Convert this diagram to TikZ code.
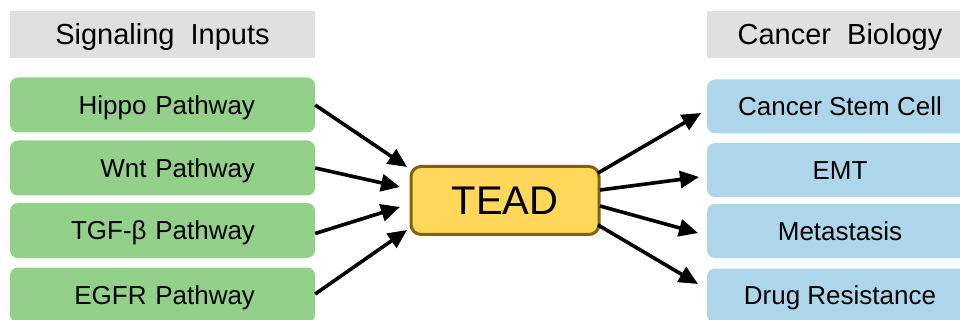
\documentclass[tikz,border=0pt]{standalone}
\usepackage{fontspec}
\setmainfont{Liberation Sans}
\usetikzlibrary{arrows.meta}
\definecolor{hdrgray}{RGB}{224,224,224}
\definecolor{ingreen}{RGB}{147,208,137}
\definecolor{outblue}{RGB}{174,214,234}
\definecolor{teadfill}{RGB}{255,215,90}
\definecolor{teaddraw}{RGB}{130,98,10}
\tikzset{
  hdr/.style={fill=hdrgray, minimum height=47pt, inner sep=0pt, text height=20.5pt, text depth=0pt, font=\fontsize{29}{32}\selectfont},
  inbox/.style={fill=ingreen, rounded corners=8pt, minimum width=305pt, minimum height=55pt, inner sep=0pt, text width=185pt, align=right, text height=18.6pt, text depth=0pt, font=\fontsize{26}{29}\selectfont},
  outbox/.style={fill=outblue, rounded corners=8pt, minimum width=266pt, minimum height=54pt, inner sep=0pt, align=center, text height=18.6pt, text depth=0pt, font=\fontsize{26}{29}\selectfont},
  hub/.style={fill=teadfill, draw=teaddraw, line width=3pt, rounded corners=10pt, minimum width=188pt, minimum height=68pt, inner sep=0pt, text height=28.6pt, text depth=0pt, font=\fontsize{40}{44}\selectfont},
  arr/.style={line width=3.6pt, -{Triangle[length=19pt,width=17pt]}}
}
\begin{document}
\begin{tikzpicture}[x=1pt,y=-1pt]
\useasboundingbox (0,0) rectangle (960,320);
\clip (0,0) rectangle (960,320);
\node[hdr, minimum width=305pt] (hl) at (162.5,34.5) {Signaling\ \ Inputs};
\node[hdr, minimum width=266pt] (hr) at (840,34.5) {Cancer\ \ Biology};
\node[inbox] (i1) at (162.5,105) {Hippo Pathway};
\node[inbox] (i2) at (162.5,168) {Wnt Pathway};
\node[inbox] (i3) at (162.5,230.5) {TGF-β Pathway};
\node[inbox] (i4) at (162.5,295) {EGFR Pathway};
\node[outbox] (o1) at (840,106.5) {Cancer Stem Cell};
\node[outbox] (o2) at (840,170) {EMT};
\node[outbox] (o3) at (840,231) {Metastasis};
\node[outbox] (o4) at (840,295.5) {Drug Resistance};
\node[hub] (tead) at (505,200.5) {TEAD};
\coordinate (e1) at (407,167);
\coordinate (e2) at (400,187);
\coordinate (e3) at (400,207);
\coordinate (e4) at (407,230);
\coordinate (s1) at (598,173);
\coordinate (s2) at (600,190);
\coordinate (s3) at (600,206);
\coordinate (s4) at (598,225);
\coordinate (t1) at (701,113);
\coordinate (t2) at (699,177);
\coordinate (t3) at (698,233);
\coordinate (t4) at (698,284);
\draw[arr] (i1.east) -- (e1);
\draw[arr] (i2.east) -- (e2);
\draw[arr] ([yshift=-3pt]i3.east) -- (e3);
\draw[arr] ([yshift=1pt]i4.east) -- (e4);
\draw[arr] (s1) -- (t1);
\draw[arr] (s2) -- (t2);
\draw[arr] (s3) -- (t3);
\draw[arr] (s4) -- (t4);
\end{tikzpicture}
\end{document}
